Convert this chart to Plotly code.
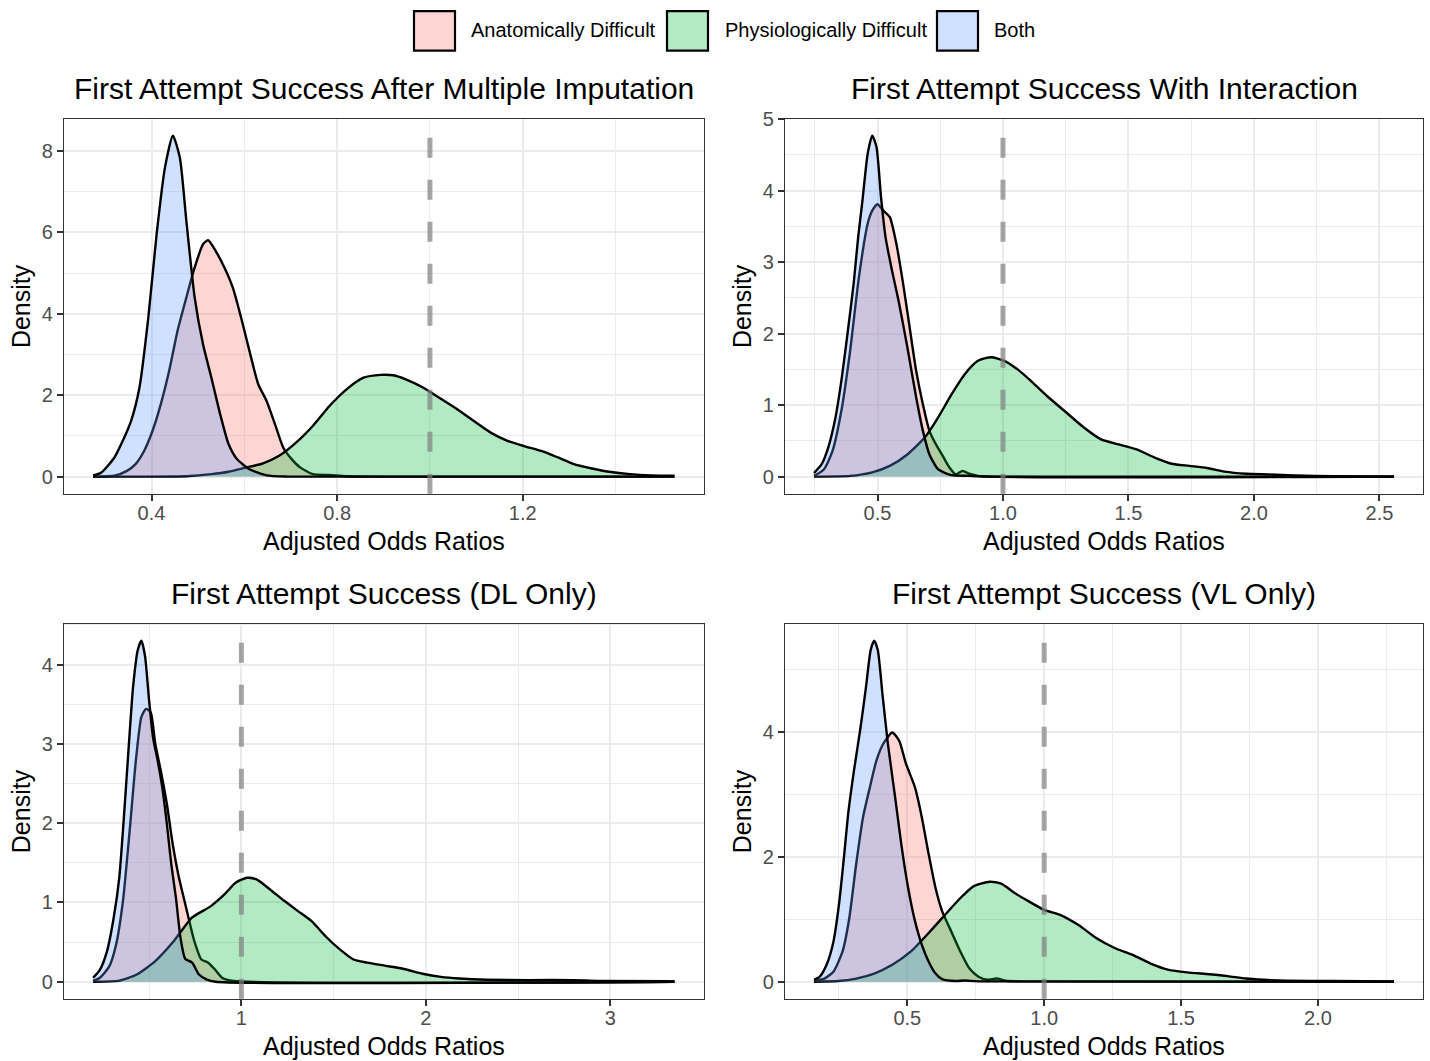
import plotly.graph_objects as go

W, H = 1430, 1061          # figure size, pinned to the window origin

# ---------------- data ----------------
series_names = ["Anatomically Difficult", "Physiologically Difficult", "Both"]
panel_titles = [
    "First Attempt Success After Multiple Imputation",
    "First Attempt Success With Interaction",
    "First Attempt Success (DL Only)",
    "First Attempt Success (VL Only)",
]

# Panel 1: After Multiple Imputation
p1_anat_x = [0.274, 0.32, 0.347, 0.365, 0.384, 0.402, 0.420, 0.438, 0.456, 0.475, 0.493, 0.511, 0.522, 0.538,
             0.557, 0.575, 0.593, 0.611, 0.630, 0.648, 0.666, 0.684, 0.702, 0.721, 0.748, 0.784, 0.821, 0.9, 1.527]
p1_anat_y = [0.0, 0.02, 0.14, 0.30, 0.63, 1.12, 1.78, 2.60, 3.58, 4.40, 5.14, 5.71, 5.81, 5.55,
             5.14, 4.65, 3.91, 3.09, 2.27, 1.86, 1.29, 0.71, 0.43, 0.22, 0.06, 0.04, 0.01, 0.0, 0.0]
p1_phys_x = [0.274, 0.475, 0.529, 0.566, 0.602, 0.639, 0.675, 0.712, 0.748, 0.784, 0.821, 0.857, 0.894, 0.921,
             0.948, 0.985, 1.021, 1.058, 1.094, 1.131, 1.167, 1.203, 1.240, 1.276, 1.312, 1.349, 1.386, 1.431,
             1.477, 1.527]
p1_phys_y = [0.0, 0.01, 0.06, 0.12, 0.22, 0.32, 0.51, 0.84, 1.25, 1.74, 2.15, 2.43, 2.50, 2.49,
             2.39, 2.19, 1.93, 1.66, 1.37, 1.08, 0.88, 0.75, 0.63, 0.47, 0.30, 0.20, 0.12, 0.06,
             0.03, 0.02]
p1_both_x = [0.274, 0.292, 0.320, 0.338, 0.356, 0.374, 0.393, 0.411, 0.429, 0.446, 0.461, 0.475, 0.493, 0.511,
             0.529, 0.548, 0.566, 0.584, 0.611, 0.648, 0.693, 1.527]
p1_both_y = [0.03, 0.10, 0.47, 0.88, 1.37, 2.19, 3.90, 5.96, 7.60, 8.38, 7.84, 6.29, 4.40, 3.25,
             2.43, 1.53, 0.80, 0.43, 0.18, 0.03, 0.0, 0.0]

# Panel 2: With Interaction
p2_anat_x = [0.247, 0.286, 0.321, 0.356, 0.391, 0.426, 0.461, 0.479, 0.500, 0.523, 0.549, 0.575, 0.602, 0.628,
             0.654, 0.681, 0.707, 0.733, 0.760, 0.786, 0.812, 0.839, 0.865, 0.900, 2.558]
p2_anat_y = [0.01, 0.10, 0.36, 0.92, 1.76, 2.79, 3.54, 3.72, 3.81, 3.72, 3.63, 3.26, 2.70, 2.09,
             1.48, 1.01, 0.64, 0.45, 0.29, 0.13, 0.03, 0.08, 0.04, 0.01, 0.0]
p2_phys_x = [0.247, 0.391, 0.479, 0.549, 0.619, 0.689, 0.742, 0.795, 0.847, 0.900, 0.953, 1.005, 1.058, 1.111,
             1.181, 1.251, 1.321, 1.391, 1.461, 1.532, 1.602, 1.672, 1.742, 1.812, 1.882, 1.970, 2.058, 2.163,
             2.321, 2.558]
p2_phys_y = [0.0, 0.01, 0.06, 0.15, 0.31, 0.55, 0.83, 1.15, 1.43, 1.62, 1.67, 1.62, 1.50, 1.34,
             1.11, 0.90, 0.69, 0.52, 0.45, 0.38, 0.27, 0.18, 0.15, 0.12, 0.07, 0.04, 0.03, 0.015,
             0.005, 0.0]
p2_both_x = [0.247, 0.277, 0.304, 0.330, 0.356, 0.382, 0.405, 0.423, 0.440, 0.461, 0.479, 0.496, 0.514, 0.532,
             0.558, 0.584, 0.619, 0.654, 0.681, 0.707, 0.742, 0.795, 0.865, 0.95, 2.558]
p2_both_y = [0.05, 0.17, 0.41, 0.78, 1.34, 2.04, 2.70, 3.35, 3.86, 4.52, 4.77, 4.61, 3.91, 3.35,
             2.88, 2.46, 1.81, 1.11, 0.64, 0.31, 0.10, 0.02, 0.01, 0.0, 0.0]

# Panel 3: DL Only
p3_anat_x = [0.196, 0.233, 0.283, 0.321, 0.358, 0.396, 0.428, 0.458, 0.483, 0.508, 0.533, 0.563, 0.596, 0.628,
             0.658, 0.683, 0.713, 0.745, 0.783, 0.820, 0.858, 0.895, 0.958, 3.347]
p3_anat_y = [0.01, 0.05, 0.19, 0.47, 1.02, 1.95, 2.79, 3.34, 3.44, 3.40, 3.00, 2.66, 2.24, 1.73,
             1.35, 1.10, 0.81, 0.51, 0.28, 0.24, 0.15, 0.05, 0.01, 0.0]
p3_phys_x = [0.196, 0.333, 0.433, 0.533, 0.633, 0.733, 0.833, 0.908, 0.970, 1.032, 1.082, 1.157, 1.232, 1.307,
             1.382, 1.457, 1.532, 1.607, 1.682, 1.782, 1.881, 1.981, 2.081, 2.181, 2.331, 2.556, 2.805, 2.930,
             3.347]
p3_phys_y = [0.0, 0.01, 0.09, 0.26, 0.51, 0.81, 0.95, 1.10, 1.25, 1.31, 1.29, 1.16, 1.02, 0.89,
             0.76, 0.57, 0.41, 0.28, 0.24, 0.20, 0.16, 0.10, 0.06, 0.04, 0.025, 0.02, 0.02, 0.01,
             0.005]
p3_both_x = [0.196, 0.233, 0.271, 0.308, 0.338, 0.363, 0.388, 0.413, 0.438, 0.458, 0.478, 0.498, 0.521, 0.546,
             0.571, 0.596, 0.620, 0.645, 0.670, 0.695, 0.733, 0.770, 0.810, 0.860, 3.347]
p3_both_y = [0.05, 0.15, 0.38, 0.81, 1.31, 2.07, 2.92, 3.72, 4.18, 4.30, 4.10, 3.59, 3.08, 2.79,
             2.45, 1.99, 1.48, 1.06, 0.55, 0.29, 0.24, 0.09, 0.03, 0.0, 0.0]

# Panel 4: VL Only
p4_anat_x = [0.159, 0.197, 0.230, 0.263, 0.288, 0.313, 0.338, 0.363, 0.387, 0.412, 0.445, 0.470, 0.495, 0.528,
             0.553, 0.578, 0.603, 0.627, 0.661, 0.694, 0.727, 0.760, 0.793, 0.826, 0.859, 0.909, 2.278]
p4_anat_y = [0.01, 0.05, 0.16, 0.48, 1.02, 1.88, 2.63, 3.11, 3.54, 3.81, 3.99, 3.86, 3.49, 3.11,
             2.63, 2.04, 1.50, 1.13, 0.80, 0.48, 0.21, 0.08, 0.03, 0.05, 0.015, 0.005, 0.0]
p4_phys_x = [0.159, 0.247, 0.313, 0.379, 0.445, 0.512, 0.578, 0.644, 0.694, 0.743, 0.801, 0.843, 0.892, 0.942,
             1.000, 1.058, 1.124, 1.190, 1.257, 1.323, 1.389, 1.455, 1.522, 1.604, 1.671, 1.737, 1.803, 1.886,
             2.051, 2.278]
p4_phys_y = [0.0, 0.01, 0.05, 0.13, 0.27, 0.48, 0.78, 1.10, 1.34, 1.53, 1.60, 1.57, 1.42, 1.29,
             1.15, 1.07, 0.91, 0.70, 0.54, 0.43, 0.29, 0.19, 0.15, 0.12, 0.09, 0.05, 0.03, 0.016,
             0.01, 0.005]
p4_both_x = [0.159, 0.180, 0.205, 0.230, 0.250, 0.267, 0.285, 0.305, 0.329, 0.349, 0.366, 0.379, 0.392, 0.409,
             0.429, 0.454, 0.478, 0.503, 0.528, 0.553, 0.578, 0.603, 0.627, 0.677, 0.710, 0.760, 2.278]
p4_both_y = [0.03, 0.08, 0.27, 0.64, 1.23, 1.93, 2.73, 3.38, 4.07, 4.72, 5.31, 5.46, 5.31, 4.61,
             3.81, 3.00, 2.20, 1.50, 0.97, 0.59, 0.32, 0.13, 0.04, 0.01, 0.02, 0.005, 0.0]

reference_line = 1.0

p1_xticks = [0.4, 0.8, 1.2]; p1_xlabels = ["0.4", "0.8", "1.2"]
p1_yticks = [0, 2, 4, 6, 8]; p1_ylabels = ["0", "2", "4", "6", "8"]
p2_xticks = [0.5, 1.0, 1.5, 2.0, 2.5]; p2_xlabels = ["0.5", "1.0", "1.5", "2.0", "2.5"]
p2_yticks = [0, 1, 2, 3, 4, 5]; p2_ylabels = ["0", "1", "2", "3", "4", "5"]
p3_xticks = [1, 2, 3]; p3_xlabels = ["1", "2", "3"]
p3_yticks = [0, 1, 2, 3, 4]; p3_ylabels = ["0", "1", "2", "3", "4"]
p4_xticks = [0.5, 1.0, 1.5, 2.0]; p4_xlabels = ["0.5", "1.0", "1.5", "2.0"]
p4_yticks = [0, 2, 4]; p4_ylabels = ["0", "2", "4"]

# ---------------- styling ----------------
FONT = "Liberation Sans, Arial, Helvetica, sans-serif"
fills = ["rgba(248,118,109,0.3)", "rgba(0,186,56,0.3)", "rgba(97,156,255,0.3)"]

# layout positions in target-picture pixels
panels = [
    dict(series=[(p1_anat_x, p1_anat_y), (p1_phys_x, p1_phys_y), (p1_both_x, p1_both_y)],
         xt=(p1_xticks, p1_xlabels), yt=(p1_yticks, p1_ylabels), px=(64, 703.5), py=(118, 493)),
    dict(series=[(p2_anat_x, p2_anat_y), (p2_phys_x, p2_phys_y), (p2_both_x, p2_both_y)],
         xt=(p2_xticks, p2_xlabels), yt=(p2_yticks, p2_ylabels), px=(785, 1423), py=(118, 493)),
    dict(series=[(p3_anat_x, p3_anat_y), (p3_phys_x, p3_phys_y), (p3_both_x, p3_both_y)],
         xt=(p3_xticks, p3_xlabels), yt=(p3_yticks, p3_ylabels), px=(64, 703.5), py=(623, 998)),
    dict(series=[(p4_anat_x, p4_anat_y), (p4_phys_x, p4_phys_y), (p4_both_x, p4_both_y)],
         xt=(p4_xticks, p4_xlabels), yt=(p4_yticks, p4_ylabels), px=(785, 1423), py=(623, 998)),
]

# observed vertical mapping of the capture: shown_y = SY * page_y + TY
SY, TY = 0.9904, 9.44


def fx(x):
    """target pixel x -> paper coordinate"""
    return x / W


def fy(y):
    """target pixel y -> paper coordinate (compensating the capture mapping)"""
    page_y = (y - TY) / SY
    return 1 - page_y / H


fig = go.Figure()
layout = {}
shapes = []
annotations = []

for i, p in enumerate(panels, start=1):
    xa = "x" if i == 1 else f"x{i}"
    ya = "y" if i == 1 else f"y{i}"
    for k, (xs, ys) in enumerate(p["series"]):
        fig.add_trace(go.Scatter(
            x=xs, y=ys, xaxis=xa, yaxis=ya, mode="lines", fill="tozeroy",
            fillcolor=fills[k], name=series_names[k], showlegend=False,
            line=dict(color="black", width=2.4, shape="spline", smoothing=0.6),
            hoverinfo="x+y+name"))
    allx = [v for xs, _ in p["series"] for v in xs]
    ally = [v for _, ys in p["series"] for v in ys]
    xmin, xmax = min(allx), max(allx)
    ymax = max(ally)
    span = xmax - xmin
    xstep = p["xt"][0][1] - p["xt"][0][0]
    ystep = p["yt"][0][1] - p["yt"][0][0]
    common = dict(showline=True, mirror=True, linecolor="#333333", linewidth=1.2,
                  ticks="outside", ticklen=6, tickwidth=1.8, tickcolor="#333333",
                  tickfont=dict(size=20, color="#4D4D4D", family=FONT),
                  showgrid=True, gridcolor="#EBEBEB", gridwidth=2, zeroline=False)
    layout["xaxis" if i == 1 else f"xaxis{i}"] = dict(
        common, domain=[fx(p["px"][0]), fx(p["px"][1])], anchor=ya,
        range=[xmin - 0.05 * span, xmax + 0.05 * span],
        tickmode="array", tickvals=p["xt"][0], ticktext=p["xt"][1], ticklabelstandoff=-5,
        minor=dict(tickmode="linear", tick0=0, dtick=xstep / 2, showgrid=True,
                   gridcolor="#EBEBEB", gridwidth=1, ticks=""))
    layout["yaxis" if i == 1 else f"yaxis{i}"] = dict(
        common, domain=[fy(p["py"][1]), fy(p["py"][0])], anchor=xa,
        range=[-0.05 * ymax, 1.05 * ymax],
        tickmode="array", tickvals=p["yt"][0], ticktext=p["yt"][1],
        minor=dict(tickmode="linear", tick0=0, dtick=ystep / 2, showgrid=True,
                   gridcolor="#EBEBEB", gridwidth=1, ticks=""))
    shapes.append(dict(type="line", xref=xa, yref=f"{ya} domain", x0=reference_line, x1=reference_line,
                       y0=0, y1=1, layer="above",
                       line=dict(color="rgba(128,128,128,0.7)", width=5, dash="20px,22px")))
    cx = (p["px"][0] + p["px"][1]) / 2
    cy = (p["py"][0] + p["py"][1]) / 2
    annotations.append(dict(text=panel_titles[i - 1], xref="paper", yref="paper",
                            x=fx(cx), y=fy(p["py"][0] - 30), xanchor="center", yanchor="middle",
                            showarrow=False, font=dict(size=30, color="black", family=FONT)))
    annotations.append(dict(text="Adjusted Odds Ratios", xref="paper", yref="paper",
                            x=fx(cx), y=fy(p["py"][1] + 47), xanchor="center", yanchor="middle",
                            showarrow=False, font=dict(size=25, color="black", family=FONT)))
    annotations.append(dict(text="Density", xref="paper", yref="paper",
                            x=fx(p["px"][0] - 43), y=fy(cy), xanchor="center", yanchor="middle",
                            textangle=-90, showarrow=False,
                            font=dict(size=25, color="black", family=FONT)))

# manual legend at top (kept fully inside the figure)
legend_boxes = [(414, 455), (667, 708), (937, 978)]
legend_text_x = [469, 723, 992]
for k in range(3):
    shapes.append(dict(type="rect", xref="paper", yref="paper",
                       x0=fx(legend_boxes[k][0]), x1=fx(legend_boxes[k][1]), y0=fy(50), y1=fy(10.5),
                       fillcolor=fills[k], line=dict(color="black", width=2.2)))
    annotations.append(dict(text=series_names[k], xref="paper", yref="paper",
                            x=fx(legend_text_x[k]), y=fy(29), xanchor="left", yanchor="middle",
                            showarrow=False, font=dict(size=20, color="black", family=FONT)))

fig.update_layout(
    width=W, height=H, margin=dict(l=0, r=0, t=0, b=0),
    paper_bgcolor="white", plot_bgcolor="white",
    showlegend=False, shapes=shapes, annotations=annotations,
    font=dict(family=FONT), **layout)

# pin the plot to the window origin (remove default page margins / scrolling)
pin_js = (
    "document.documentElement.style.margin='0';document.documentElement.style.padding='0';"
    "document.documentElement.style.overflow='hidden';"
    "document.body.style.margin='0';document.body.style.padding='0';document.body.style.overflow='hidden';"
    "var gd=document.getElementById('{plot_id}');"
    "gd.style.position='fixed';gd.style.left='0px';gd.style.top='0px';"
)

fig.write_html("out.html", post_script=pin_js, config={"displayModeBar": False})
